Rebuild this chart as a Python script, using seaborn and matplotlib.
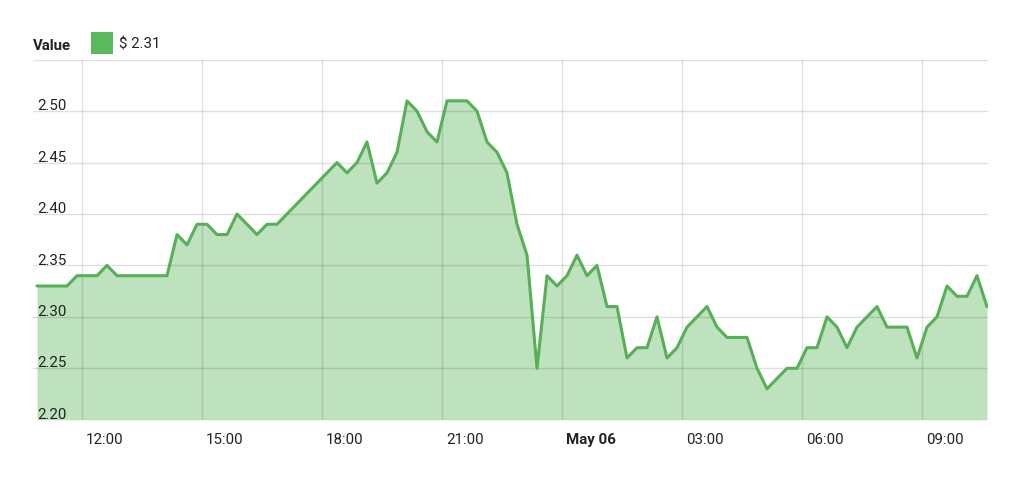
import numpy as np
import pandas as pd
import seaborn as sns
import matplotlib
matplotlib.use("Agg")
import matplotlib.pyplot as plt
import matplotlib.dates as mdates
from matplotlib.transforms import blended_transform_factory, ScaledTranslation
from matplotlib.patches import Rectangle

# price every 15 minutes
times = pd.date_range("2018-05-05 10:53", periods=96, freq="15min")
values = [2.33, 2.33, 2.33, 2.33, 2.34, 2.34, 2.34, 2.35, 2.34, 2.34,
          2.34, 2.34, 2.34, 2.34, 2.38, 2.37, 2.39, 2.39, 2.38, 2.38,
          2.40, 2.39, 2.38, 2.39, 2.39, 2.40, 2.41, 2.42, 2.43, 2.44,
          2.45, 2.44, 2.45, 2.47, 2.43, 2.44, 2.46, 2.51, 2.50, 2.48,
          2.47, 2.51, 2.51, 2.51, 2.50, 2.47, 2.46, 2.44, 2.39, 2.36,
          2.25, 2.34, 2.33, 2.34, 2.36, 2.34, 2.35, 2.31, 2.31, 2.26,
          2.27, 2.27, 2.30, 2.26, 2.27, 2.29, 2.30, 2.31, 2.29, 2.28,
          2.28, 2.28, 2.25, 2.23, 2.24, 2.25, 2.25, 2.27, 2.27, 2.30,
          2.29, 2.27, 2.29, 2.30, 2.31, 2.29, 2.29, 2.29, 2.26, 2.29,
          2.30, 2.33, 2.32, 2.32, 2.34, 2.31]

ytick_vals = [2.20, 2.25, 2.30, 2.35, 2.40, 2.45, 2.50, 2.55]
xtick_times = pd.to_datetime(["2018-05-05 12:00", "2018-05-05 15:00", "2018-05-05 18:00",
                              "2018-05-05 21:00", "2018-05-06 00:00", "2018-05-06 03:00",
                              "2018-05-06 06:00", "2018-05-06 09:00"])
xtick_labels = ["12:00", "15:00", "18:00", "21:00", "May 06", "03:00", "06:00", "09:00"]

FILL = "#5cb85c"
LINE = "#57af57"
TEXT = "#222222"
FS = 10.8

sns.set_style("white")
plt.rcParams["font.family"] = ["Roboto", "DejaVu Sans"]

fig = plt.figure(figsize=(10.24, 4.81), dpi=100)
ax = fig.add_axes([33 / 1024, 1 - 420.7 / 481, (988 - 33) / 1024, 360 / 481])

ax.fill_between(times, values, 2.20, color=FILL, alpha=0.4, lw=0)
sns.lineplot(x=times, y=values, ax=ax, color=LINE, lw=2.2)

ax.set_xlim(pd.Timestamp("2018-05-05 10:47"), pd.Timestamp("2018-05-06 10:39:30"))
ax.set_ylim(2.20, 2.55)
ax.set_xticks(xtick_times)
ax.set_yticks(ytick_vals)
ax.tick_params(length=0, labelbottom=False, labelleft=False)
ax.set_xlabel("")
ax.set_ylabel("")
ax.grid(True, color="black", alpha=0.12, lw=1)
ax.set_axisbelow("line")
for s in ax.spines.values():
    s.set_visible(False)

# x labels sit just right of their grid line, below the plot
xoff = ScaledTranslation(4.5 / 100, -19.5 / 100, fig.dpi_scale_trans)
xtr = blended_transform_factory(ax.transData, ax.transAxes) + xoff
for t, lab in zip(xtick_times, xtick_labels):
    ax.text(mdates.date2num(t), 0, lab, transform=xtr, ha="left", va="center",
            fontsize=FS, color=TEXT, weight="bold" if lab.startswith("May") else "normal")

# y labels sit inside the plot, just above their grid line
yoff = ScaledTranslation(4.7 / 100, 1.8 / 100, fig.dpi_scale_trans)
ytr = blended_transform_factory(ax.transAxes, ax.transData) + yoff
for v in ytick_vals[:-1]:
    ax.text(0, v, f"{v:.2f}", transform=ytr, ha="left", va="baseline",
            fontsize=FS, color=TEXT)

# legend row
fig.text(33 / 1024, 1 - 45.5 / 481, "Value", ha="left", va="center",
         fontsize=FS, weight="bold", color=TEXT)
fig.patches.append(Rectangle((90.7 / 1024, 1 - 55.3 / 481), 22 / 1024, 22 / 481,
                             transform=fig.transFigure, color=FILL, lw=0))
fig.text(119 / 1024, 1 - 45 / 481, f"$ {values[-1]:.2f}", ha="left", va="center",
         fontsize=FS, color=TEXT, parse_math=False)

fig.savefig("out.png", dpi=100, facecolor="white")
